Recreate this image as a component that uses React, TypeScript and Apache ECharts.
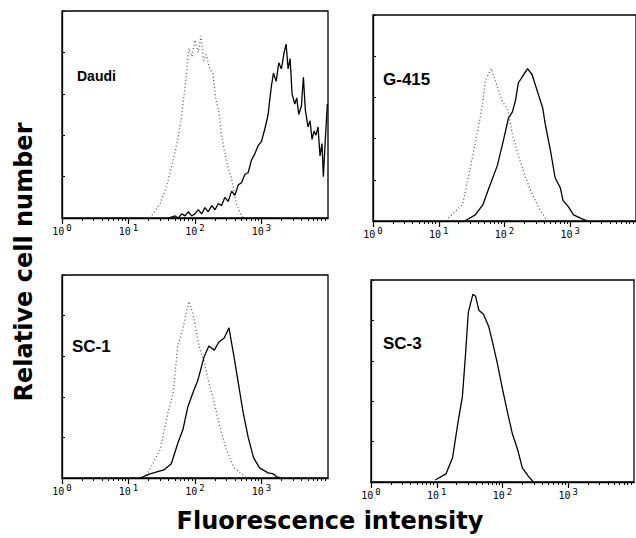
import React, { useEffect, useRef } from "react";
import * as echarts from "echarts";

// Fluorescence intensity (linear units, plotted on log axis) vs relative cell number
const panelNames = ["Daudi", "G-415", "SC-1", "SC-3"];
const decadeExponents = [0, 1, 2, 3];
const minorTickValues = [
  2, 3, 4, 5, 6, 7, 8, 9,
  20, 30, 40, 50, 60, 70, 80, 90,
  200, 300, 400, 500, 600, 700, 800, 900,
  2000, 3000, 4000, 5000, 6000, 7000, 8000, 9000,
];

const daudiControl: [number, number][] = [
  [21, 0], [30, 7], [38, 16], [47, 28], [55, 38], [62, 48], [72, 65], [81, 82], [90, 78], [100, 86],
  [112, 80], [123, 88], [135, 76], [148, 79], [166, 72], [186, 70], [205, 58], [229, 51], [251, 40],
  [275, 33], [316, 24], [355, 19], [417, 7], [500, 1], [560, 0],
];
const daudiStained: [number, number][] = [
  [40, 0], [50, 1], [56, 0], [63, 2], [71, 1], [79, 3], [89, 1], [100, 2], [112, 4], [126, 2],
  [141, 5], [158, 3], [178, 6], [200, 4], [224, 7], [251, 6], [282, 10], [316, 8], [355, 13],
  [398, 11], [447, 16], [501, 17], [562, 21], [631, 22], [708, 28], [794, 31], [891, 35],
  [1000, 37], [1122, 43], [1259, 50], [1318, 56], [1413, 64], [1514, 70], [1660, 66], [1820, 75],
  [1995, 72], [2188, 80], [2344, 84], [2512, 72], [2692, 77], [2884, 60], [3162, 55], [3388, 58],
  [3631, 50], [3981, 54], [4266, 68], [4571, 52], [5012, 44], [5370, 47], [5754, 38], [6166, 42],
  [6607, 40], [7079, 44], [7586, 30], [8128, 36], [8511, 20], [9120, 38], [9772, 55],
];
const g415Control: [number, number][] = [
  [14, 1.5], [23, 8], [28, 21], [34, 34], [41, 47], [47, 58], [51, 68], [63, 74], [78, 65],
  [93, 58], [112, 54], [132, 42], [166, 31], [209, 21], [263, 13], [339, 6], [417, 1.5], [470, 0],
];
const g415Stained: [number, number][] = [
  [25, 0], [28, 1], [36, 3], [47, 8], [58, 16], [78, 27], [96, 39], [115, 50], [132, 53],
  [148, 59], [162, 67], [186, 70], [224, 74], [263, 71], [316, 63], [380, 55], [417, 47],
  [501, 34], [589, 21], [708, 16], [776, 10], [933, 7], [1122, 3], [1514, 1], [1862, 0],
];
const sc1Control: [number, number][] = [
  [17, 0], [20, 3], [30, 14], [39, 32], [47, 42], [55, 65], [66, 74], [81, 87], [93, 81],
  [115, 65], [138, 57], [162, 47], [195, 37], [229, 27], [295, 14], [389, 5], [501, 2], [600, 0],
];
const sc1Stained: [number, number][] = [
  [15, 0], [21, 2], [34, 4], [44, 7], [55, 17], [66, 24], [78, 35], [93, 42], [110, 48],
  [138, 60], [162, 65], [195, 63], [229, 67], [275, 69], [324, 74], [380, 61], [447, 47],
  [525, 33], [631, 20], [759, 10], [933, 5], [1259, 2.5], [1514, 2], [1698, 0.5], [1995, 0],
];
const sc3Stained: [number, number][] = [
  [9.5, 1], [13.8, 4], [17.4, 12], [21.4, 31], [24.5, 42], [27.5, 64], [30.2, 84], [35.5, 93],
  [38.9, 92], [43.7, 85], [51.3, 83], [61.7, 77], [70.8, 69], [83.2, 59], [100, 46], [120, 34],
  [141, 24], [170, 16], [200, 7], [245, 3], [295, 0],
];

const controls = [daudiControl, g415Control, sc1Control, null];
const stained = [daudiStained, g415Stained, sc1Stained, sc3Stained];

const grids = [
  { left: 62, top: 11, width: 266, height: 207 },
  { left: 373, top: 15, width: 264, height: 206 },
  { left: 62, top: 275, width: 266, height: 203 },
  { left: 371, top: 280, width: 263, height: 202 },
];
const labelPos = [
  { x: 77, y: 69, size: 14 },
  { x: 383, y: 71, size: 17 },
  { x: 72, y: 338, size: 17 },
  { x: 383, y: 335, size: 17 },
];

export default function App() {
  const ref = useRef<HTMLDivElement>(null);
  useEffect(() => {
    if (!ref.current) return;
    const chart = echarts.init(ref.current, undefined, { renderer: "svg" });
    const xAxis: any[] = [];
    grids.forEach((_, i) => {
      xAxis.push({
        type: "log",
        logBase: 10,
        min: 1,
        max: 10000,
        gridIndex: i,
        position: "bottom",
        axisLine: { show: true, lineStyle: { color: "#000", width: 1.3 } },
        axisTick: { show: true, inside: false, length: 6, lineStyle: { color: "#000", width: 1.2 } },
        splitLine: { show: false },
        axisLabel: {
          showMaxLabel: false,
          margin: 5,
          formatter: (v: number) => {
            const e = Math.round(Math.log10(v));
            return decadeExponents.includes(e) ? `{b|10}{s|${e}}` : "";
          },
          rich: {
            b: { fontFamily: "DejaVu Sans Mono", fontSize: 10, color: "#000" },
            s: { fontFamily: "DejaVu Sans Mono", fontSize: 9, color: "#000", padding: [0, 0, 7, 2] },
          },
        },
      });
    });
    grids.forEach((_, i) => {
      xAxis.push({
        type: "log",
        logBase: 10,
        min: 1,
        max: 10000,
        gridIndex: i,
        position: "bottom",
        offset: 0,
        axisLine: { show: false },
        axisTick: {
          show: true,
          inside: false,
          length: 3,
          customValues: minorTickValues,
          lineStyle: { color: "#000", width: 1 },
        },
        axisLabel: { show: false },
        splitLine: { show: false },
      });
    });
    const yAxis = grids.map((_, i) => ({
      type: "value",
      min: 0,
      max: 100,
      interval: 20,
      gridIndex: i,
      axisLine: { show: true, lineStyle: { color: "#000", width: 1.3 } },
      axisTick: { show: true, inside: true, length: 3, lineStyle: { color: "#000" } },
      axisLabel: { show: false },
      splitLine: { show: false },
    }));
    const series: any[] = [];
    stained.forEach((d, i) => {
      const c = controls[i];
      if (c) {
        series.push({
          type: "line",
          xAxisIndex: i,
          yAxisIndex: i,
          data: c,
          showSymbol: false,
          lineStyle: { color: "#555", width: 1.3, type: [1, 2.5] },
        });
      }
      series.push({
        type: "line",
        xAxisIndex: i,
        yAxisIndex: i,
        data: d,
        showSymbol: false,
        lineStyle: { color: "#000", width: 1.3 },
      });
    });
    const graphic: any[] = panelNames.map((name, i) => ({
      type: "text",
      left: labelPos[i].x,
      top: labelPos[i].y,
      style: {
        text: name,
        fontFamily: "Liberation Sans",
        fontWeight: "bold",
        fontSize: labelPos[i].size,
        fill: "#000",
      },
    }));
    graphic.push({
      type: "text",
      x: 24,
      y: 262,
      rotation: Math.PI / 2,
      style: {
        text: "Relative cell number",
        fontFamily: "DejaVu Sans",
        fontWeight: "bold",
        fontSize: 24,
        fill: "#000",
        align: "center",
        verticalAlign: "middle",
      },
    });
    graphic.push({
      type: "text",
      x: 330,
      y: 521,
      style: {
        text: "Fluorescence intensity",
        fontFamily: "DejaVu Sans",
        fontWeight: "bold",
        fontSize: 24,
        fill: "#000",
        align: "center",
        verticalAlign: "middle",
      },
    });
    chart.setOption({
      animation: false,
      backgroundColor: "#fff",
      grid: grids.map((g) => ({ ...g, show: true, borderColor: "#000", borderWidth: 1.3, backgroundColor: "transparent" })),
      xAxis,
      yAxis,
      series,
      graphic,
    });
    return () => chart.dispose();
  }, []);
  return <div ref={ref} style={{ position: "fixed", left: 0, top: 0, width: 636, height: 538 }} />;
}
